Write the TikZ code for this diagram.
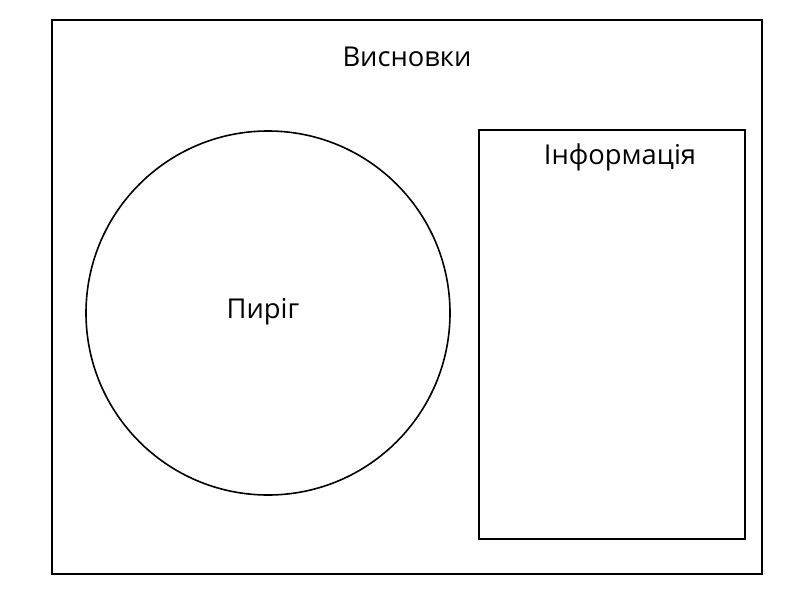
\documentclass[tikz,border=0pt]{standalone}
\usepackage{fontspec}
\setmainfont{Open Sans}
\usetikzlibrary{positioning}

\begin{document}
\begin{tikzpicture}[
      x=0.75pt, y=-0.75pt,
      frame/.style={rectangle, draw, line width=1.2pt, inner sep=0pt},
      pie/.style={circle, draw, line width=1.2pt, minimum size=273pt, inner sep=0pt},
      label/.style={font=\fontsize{20.5}{24}\selectfont, inner sep=0pt},
    ]
    \useasboundingbox (0,0) rectangle (800,600);
    \node[frame, minimum width=532.5pt, minimum height=415.5pt] (conclusions) at (407,297) {};
    \node[label] (conclusionstext) at (407,57) {Висновки};
    \node[pie] (pie) at (268,313) {};
    \node[label] (pietext) at (263,312) {Пиріг};
    \node[frame, minimum width=199.5pt, minimum height=306.75pt] (info) at (612,334.5) {};
    \node[label] (infotext) at (620,157) {Інформація};
  \end{tikzpicture}
\end{document}
